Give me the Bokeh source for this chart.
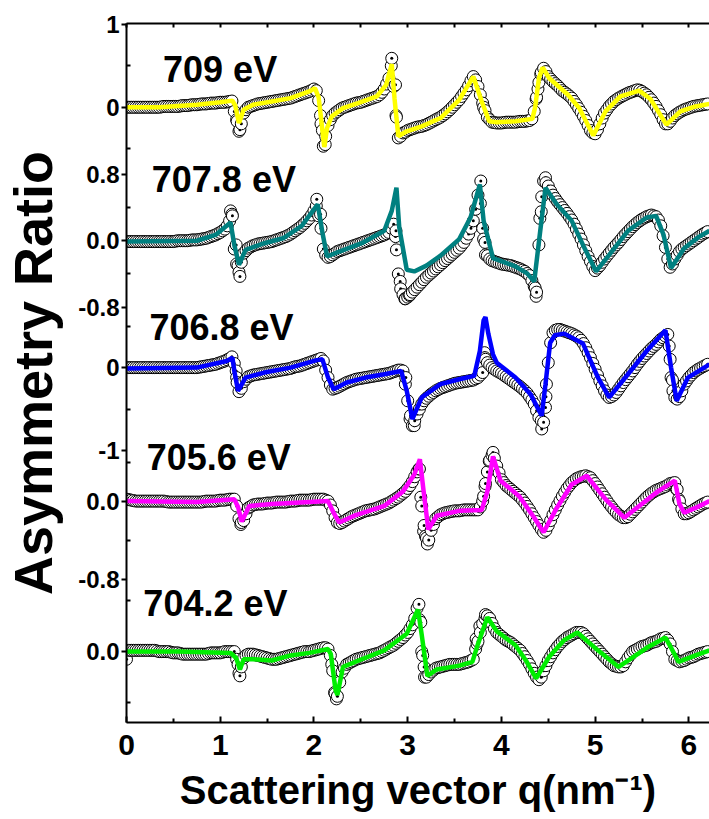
from bokeh.plotting import figure
from bokeh.models import Range1d, LinearAxis, FixedTicker, Label
from bokeh.embed import file_html
from bokeh.resources import INLINE
import numpy as np

# q sampling of the measured points (nm^-1): main grid and in-between grid
q_data = [0.00, 0.05, 0.10, 0.15, 0.20, 0.25, 0.30, 0.35, 0.40, 0.45,
          0.50, 0.55, 0.60, 0.65, 0.70, 0.75, 0.80, 0.85, 0.90, 0.95,
          1.00, 1.05, 1.10, 1.15, 1.20, 1.25, 1.30, 1.35, 1.40, 1.45,
          1.50, 1.55, 1.60, 1.65, 1.70, 1.75, 1.80, 1.85, 1.90, 1.95,
          2.00, 2.05, 2.10, 2.15, 2.20, 2.25, 2.30, 2.35, 2.40, 2.45,
          2.50, 2.55, 2.60, 2.65, 2.70, 2.75, 2.80, 2.85, 2.90, 2.95,
          3.00, 3.05, 3.10, 3.15, 3.20, 3.25, 3.30, 3.35, 3.40, 3.45,
          3.50, 3.55, 3.60, 3.65, 3.70, 3.75, 3.80, 3.85, 3.90, 3.95,
          4.00, 4.05, 4.10, 4.15, 4.20, 4.25, 4.30, 4.35, 4.40, 4.45,
          4.50, 4.55, 4.60, 4.65, 4.70, 4.75, 4.80, 4.85, 4.90, 4.95,
          5.00, 5.05, 5.10, 5.15, 5.20, 5.25, 5.30, 5.35, 5.40, 5.45,
          5.50, 5.55, 5.60, 5.65, 5.70, 5.75, 5.80, 5.85, 5.90, 5.95,
          6.00, 6.05, 6.10, 6.15, 6.20]
q_mid = [0.025, 0.075, 0.125, 0.175, 0.225, 0.275, 0.325, 0.375, 0.425, 0.475,
         0.525, 0.575, 0.625, 0.675, 0.725, 0.775, 0.825, 0.875, 0.925, 0.975,
         1.025, 1.075, 1.125, 1.175, 1.225, 1.275, 1.325, 1.375, 1.425, 1.475,
         1.525, 1.575, 1.625, 1.675, 1.725, 1.775, 1.825, 1.875, 1.925, 1.975,
         2.025, 2.075, 2.125, 2.175, 2.225, 2.275, 2.325, 2.375, 2.425, 2.475,
         2.525, 2.575, 2.625, 2.675, 2.725, 2.775, 2.825, 2.875, 2.925, 2.975,
         3.025, 3.075, 3.125, 3.175, 3.225, 3.275, 3.325, 3.375, 3.425, 3.475,
         3.525, 3.575, 3.625, 3.675, 3.725, 3.775, 3.825, 3.875, 3.925, 3.975,
         4.025, 4.075, 4.125, 4.175, 4.225, 4.275, 4.325, 4.375, 4.425, 4.475,
         4.525, 4.575, 4.625, 4.675, 4.725, 4.775, 4.825, 4.875, 4.925, 4.975,
         5.025, 5.075, 5.125, 5.175, 5.225, 5.275, 5.325, 5.375, 5.425, 5.475,
         5.525, 5.575, 5.625, 5.675, 5.725, 5.775, 5.825, 5.875, 5.925, 5.975,
         6.025, 6.075, 6.125, 6.175]

# ---- 709 eV ----
e709_data = [0.00, 0.00, 0.00, 0.00, 0.00, 0.00, 0.00, 0.00, 0.01, 0.01,
             0.01, 0.01, 0.02, 0.02, 0.03, 0.03, 0.04, 0.04, 0.05, 0.05,
             0.06, 0.06, 0.07, -0.05, -0.29, -0.07, 0.00, 0.02, 0.04, 0.05,
             0.06, 0.07, 0.08, 0.09, 0.10, 0.11, 0.13, 0.15, 0.17, 0.19,
             0.22, 0.08, -0.47, -0.22, -0.10, -0.05, -0.01, 0.01, 0.03, 0.05,
             0.06, 0.08, 0.10, 0.12, 0.15, 0.22, 0.35, 0.25, -0.37, -0.31,
             -0.28, -0.26, -0.24, -0.23, -0.21, -0.18, -0.15, -0.12, -0.08, -0.03,
             0.03, 0.09, 0.17, 0.26, 0.37, 0.25, 0.05, -0.12, -0.18, -0.19,
             -0.19, -0.18, -0.18, -0.18, -0.17, -0.17, -0.16, -0.05, 0.30, 0.47,
             0.37, 0.31, 0.26, 0.20, 0.16, 0.11, 0.03, -0.06, -0.16, -0.28,
             -0.32, -0.20, -0.07, 0.01, 0.07, 0.11, 0.14, 0.17, 0.19, 0.21,
             0.19, 0.15, 0.09, 0.01, -0.09, -0.20, -0.17, -0.10, -0.06, -0.03,
             -0.01, 0.01, 0.02, 0.03, 0.04]
e709_mid = [0.00, 0.00, 0.00, 0.00, 0.00, 0.00, 0.00, 0.005, 0.01, 0.01,
            0.01, 0.015, 0.02, 0.025, 0.03, 0.035, 0.04, 0.045, 0.05, 0.055,
            0.06, 0.065, 0.075, -0.15, -0.20, -0.03, 0.01, 0.03, 0.045, 0.055,
            0.065, 0.075, 0.085, 0.095, 0.105, 0.12, 0.14, 0.16, 0.18, 0.205,
            0.20, -0.20, -0.35, -0.15, -0.07, -0.03, 0.00, 0.02, 0.04, 0.055,
            0.07, 0.09, 0.11, 0.13, 0.18, 0.28, 0.50, -0.10, -0.35, -0.30,
            -0.27, -0.25, -0.235, -0.22, -0.195, -0.165, -0.135, -0.10, -0.055, 0.00,
            0.06, 0.13, 0.21, 0.32, 0.33, 0.15, -0.04, -0.15, -0.185, -0.19,
            -0.185, -0.18, -0.18, -0.175, -0.17, -0.165, -0.14, 0.12, 0.42, 0.43,
            0.34, 0.285, 0.23, 0.18, 0.135, 0.07, -0.015, -0.11, -0.22, -0.31,
            -0.27, -0.13, -0.03, 0.04, 0.09, 0.125, 0.155, 0.18, 0.20, 0.205,
            0.17, 0.12, 0.05, -0.04, -0.15, -0.20, -0.13, -0.08, -0.045, -0.02,
            0.00, 0.015, 0.025, 0.035]
e709_q_extra = [1.18, 1.21, 2.07, 2.09, 2.12, 2.83, 2.87, 2.88, 3.81, 4.37, 4.39, 4.42]
e709_v_extra = [-0.17, -0.27, -0.10, -0.28, -0.45, 0.59, 0.27, -0.12, 0.00, 0.10, 0.22, 0.40]
e709_fit_q = [0.0, 0.35, 0.75, 1.0, 1.13, 1.16, 1.20, 1.25, 1.35, 1.55,
              1.75, 1.95, 2.01, 2.05, 2.11, 2.14, 2.19, 2.31, 2.47, 2.67,
              2.77, 2.83, 2.86, 2.90, 2.99, 3.15, 3.35, 3.55, 3.70, 3.79,
              3.87, 3.95, 4.15, 4.33, 4.36, 4.40, 4.44, 4.51, 4.71, 4.83,
              4.98, 5.11, 5.27, 5.47, 5.59, 5.76, 5.91, 6.07, 6.22]
e709_fit_v = [0.0, 0.0, 0.03, 0.06, 0.08, 0.02, -0.19, -0.03, 0.03, 0.07,
              0.11, 0.19, 0.23, 0.12, -0.48, -0.25, -0.11, -0.01, 0.05, 0.13,
              0.27, 0.52, 0.10, -0.35, -0.29, -0.23, -0.13, 0.09, 0.37, 0.07,
              -0.17, -0.18, -0.17, -0.14, 0.0, 0.35, 0.48, 0.35, 0.15, -0.01,
              -0.34, -0.05, 0.13, 0.20, 0.10, -0.21, -0.05, 0.01, 0.04]

# ---- 707.8 eV ----
e7078_data = [-0.01, -0.01, -0.01, -0.01, -0.01, -0.01, -0.01, -0.01, -0.01, -0.01,
              -0.01, 0.00, 0.00, 0.00, 0.01, 0.01, 0.02, 0.03, 0.05, 0.07,
              0.10, 0.14, 0.24, -0.10, -0.38, -0.15, -0.09, -0.06, -0.04, -0.03,
              -0.02, -0.01, 0.01, 0.03, 0.05, 0.08, 0.12, 0.16, 0.21, 0.27,
              0.36, 0.30, -0.10, -0.20, -0.17, -0.13, -0.11, -0.09, -0.07, -0.05,
              -0.03, -0.01, 0.01, 0.03, 0.05, 0.07, 0.10, 0.20, -0.40, -0.65,
              -0.68, -0.62, -0.56, -0.50, -0.44, -0.39, -0.34, -0.29, -0.24, -0.19,
              -0.14, -0.09, -0.02, 0.08, 0.24, 0.55, 0.15, -0.18, -0.24, -0.26,
              -0.28, -0.29, -0.30, -0.32, -0.34, -0.37, -0.42, -0.55, -0.05, 0.72,
              0.66, 0.55, 0.47, 0.40, 0.33, 0.25, 0.14, 0.02, -0.12, -0.25,
              -0.36, -0.30, -0.22, -0.15, -0.08, -0.02, 0.05, 0.11, 0.17, 0.22,
              0.26, 0.29, 0.31, 0.29, 0.18, -0.08, -0.32, -0.22, -0.13, -0.08,
              -0.04, 0.00, 0.04, 0.08, 0.11]
e7078_mid = [-0.01, -0.01, -0.01, -0.01, -0.01, -0.01, -0.01, -0.01, -0.01, -0.01,
             -0.005, 0.00, 0.00, 0.005, 0.01, 0.015, 0.025, 0.04, 0.06, 0.085,
             0.12, 0.18, 0.32, -0.28, -0.26, -0.12, -0.075, -0.05, -0.035, -0.025,
             -0.015, 0.00, 0.02, 0.04, 0.065, 0.10, 0.14, 0.185, 0.24, 0.31,
             0.42, 0.15, -0.17, -0.19, -0.15, -0.12, -0.10, -0.08, -0.06, -0.04,
             -0.02, 0.00, 0.02, 0.04, 0.06, 0.085, 0.15, 0.12, -0.58, -0.70,
             -0.65, -0.59, -0.53, -0.47, -0.415, -0.365, -0.315, -0.265, -0.215, -0.165,
             -0.115, -0.055, 0.03, 0.15, 0.38, 0.45, -0.02, -0.22, -0.25, -0.27,
             -0.285, -0.295, -0.31, -0.33, -0.355, -0.395, -0.48, -0.62, 0.35, 0.70,
             0.60, 0.51, 0.435, 0.365, 0.29, 0.20, 0.08, -0.05, -0.19, -0.31,
             -0.33, -0.26, -0.185, -0.115, -0.05, 0.015, 0.08, 0.14, 0.195, 0.24,
             0.275, 0.30, 0.30, 0.25, 0.06, -0.22, -0.28, -0.175, -0.10, -0.06,
             -0.02, 0.02, 0.06, 0.095]
e7078_q_extra = [1.11, 1.13, 1.17, 1.19, 1.21, 2.03, 2.07, 2.87, 2.88, 2.92,
                 2.97, 3.02, 3.78, 3.81, 3.83, 4.36, 4.37, 4.41, 4.43, 4.47]
e7078_v_extra = [0.36, 0.30, -0.05, -0.30, -0.43, 0.50, 0.32, 0.05, -0.11, -0.49,
                 -0.70, -0.66, 0.72, 0.02, -0.17, -0.57, -0.67, 0.27, 0.53, 0.76]
e7078_fit_q = [0.0, 0.75, 0.95, 1.11, 1.15, 1.20, 1.27, 1.47, 1.67, 1.87,
               2.04, 2.09, 2.14, 2.27, 2.51, 2.75, 2.83, 2.88, 2.91, 2.99,
               3.07, 3.20, 3.35, 3.55, 3.67, 3.77, 3.81, 3.91, 4.15, 4.27,
               4.35, 4.41, 4.47, 4.59, 4.75, 4.87, 5.01, 5.15, 5.35, 5.55,
               5.65, 5.73, 5.81, 5.95, 6.11, 6.22]
e7078_fit_v = [-0.01, 0.0, 0.07, 0.22, -0.05, -0.29, -0.11, -0.03, 0.03, 0.18,
               0.44, 0.10, -0.19, -0.13, -0.03, 0.12, 0.36, 0.64, 0.16, -0.35,
               -0.37, -0.30, -0.18, 0.02, 0.28, 0.68, 0.24, -0.21, -0.31, -0.39,
               -0.49, 0.08, 0.64, 0.44, 0.24, -0.05, -0.37, -0.17, 0.12, 0.28,
               0.30, 0.07, -0.33, -0.09, 0.05, 0.12]

# ---- 706.8 eV ----
e7068_data = [0.00, 0.00, 0.00, 0.00, 0.00, 0.00, 0.00, 0.00, 0.00, 0.00,
              0.00, 0.00, 0.00, 0.00, 0.00, 0.00, 0.01, 0.02, 0.03, 0.04,
              0.06, 0.08, 0.11, 0.05, -0.29, -0.17, -0.11, -0.09, -0.08, -0.07,
              -0.06, -0.05, -0.04, -0.03, -0.02, -0.01, 0.01, 0.02, 0.04, 0.06,
              0.08, 0.10, 0.08, -0.12, -0.26, -0.24, -0.21, -0.18, -0.16, -0.14,
              -0.13, -0.12, -0.11, -0.10, -0.09, -0.08, -0.07, -0.05, -0.03, -0.04,
              -0.40, -0.70, -0.56, -0.44, -0.37, -0.32, -0.28, -0.25, -0.23, -0.21,
              -0.19, -0.18, -0.17, -0.16, -0.15, -0.12, -0.06, 0.06, 0.00, -0.04,
              -0.07, -0.11, -0.15, -0.19, -0.23, -0.28, -0.35, -0.44, -0.60, -0.66,
              0.06, 0.42, 0.46, 0.45, 0.43, 0.41, 0.38, 0.33, 0.24, 0.12,
              -0.02, -0.16, -0.28, -0.36, -0.33, -0.26, -0.18, -0.11, -0.04, 0.04,
              0.11, 0.17, 0.23, 0.28, 0.34, 0.38, 0.10, -0.36, -0.35, -0.20,
              -0.12, -0.06, -0.02, 0.01, 0.04]
e7068_mid = [0.00, 0.00, 0.00, 0.00, 0.00, 0.00, 0.00, 0.00, 0.00, 0.00,
             0.00, 0.00, 0.00, 0.00, 0.00, 0.005, 0.015, 0.025, 0.035, 0.05,
             0.07, 0.095, 0.13, -0.12, -0.25, -0.14, -0.10, -0.085, -0.075, -0.065,
             -0.055, -0.045, -0.035, -0.025, -0.015, 0.00, 0.015, 0.03, 0.05, 0.07,
             0.09, 0.11, -0.03, -0.21, -0.25, -0.225, -0.195, -0.17, -0.15, -0.135,
             -0.125, -0.115, -0.105, -0.095, -0.085, -0.075, -0.06, -0.04, -0.03, -0.20,
             -0.62, -0.64, -0.50, -0.40, -0.345, -0.30, -0.265, -0.24, -0.22, -0.20,
             -0.185, -0.175, -0.165, -0.155, -0.135, -0.09, 0.12, 0.03, -0.02, -0.055,
             -0.09, -0.13, -0.17, -0.21, -0.255, -0.31, -0.39, -0.52, -0.64, -0.35,
             0.30, 0.45, 0.46, 0.44, 0.42, 0.395, 0.36, 0.29, 0.18, 0.05,
             -0.09, -0.22, -0.33, -0.35, -0.30, -0.22, -0.145, -0.075, 0.00, 0.075,
             0.14, 0.20, 0.255, 0.31, 0.36, 0.40, -0.15, -0.38, -0.28, -0.16,
             -0.09, -0.04, -0.005, 0.025]
e7068_q_extra = [1.17, 1.18, 2.98, 3.03, 3.07, 3.82, 3.83, 4.43, 4.47, 4.48, 5.79, 5.81, 5.83]
e7068_v_extra = [-0.04, -0.18, -0.12, -0.58, -0.70, 0.18, 0.10, -0.74, -0.48, -0.20, 0.26, -0.12, -0.28]
e7068_fit_q = [0.0, 0.75, 1.07, 1.13, 1.15, 1.19, 1.27, 1.47, 1.75, 2.03,
               2.09, 2.15, 2.21, 2.35, 2.55, 2.75, 2.93, 2.99, 3.05, 3.15,
               3.35, 3.55, 3.71, 3.77, 3.81, 3.83, 3.86, 3.91, 3.95, 4.15,
               4.31, 4.43, 4.47, 4.52, 4.57, 4.67, 4.87, 5.03, 5.15, 5.35,
               5.55, 5.75, 5.81, 5.87, 5.99, 6.22]
e7068_fit_v = [-0.01, 0.0, 0.08, 0.12, -0.04, -0.28, -0.12, -0.06, 0.0, 0.09,
               0.10, -0.12, -0.26, -0.18, -0.12, -0.08, -0.04, -0.28, -0.62, -0.36,
               -0.20, -0.14, -0.10, 0.20, 0.57, 0.61, 0.41, 0.16, 0.06, -0.12,
               -0.32, -0.58, -0.20, 0.30, 0.39, 0.41, 0.29, -0.12, -0.36, -0.08,
               0.20, 0.45, 0.0, -0.40, -0.12, 0.04]

# ---- 705.6 eV ----
e7056_data = [0.02, 0.01, 0.00, 0.00, 0.00, 0.00, 0.00, 0.00, 0.00, -0.01,
              -0.01, -0.01, -0.01, -0.01, -0.01, -0.01, -0.01, 0.00, 0.00, 0.00,
              0.01, 0.01, 0.02, 0.02, -0.18, -0.20, -0.07, -0.04, -0.03, -0.03,
              -0.02, -0.02, -0.01, -0.01, -0.01, 0.00, 0.00, 0.01, 0.01, 0.01,
              0.02, 0.02, 0.02, 0.00, -0.10, -0.22, -0.22, -0.19, -0.16, -0.14,
              -0.12, -0.10, -0.09, -0.08, -0.06, -0.04, -0.02, 0.01, 0.04, 0.08,
              0.13, 0.20, 0.30, -0.05, -0.38, -0.30, -0.18, -0.14, -0.12, -0.11,
              -0.10, -0.10, -0.09, -0.09, -0.09, -0.09, 0.00, 0.30, 0.47, 0.36,
              0.22, 0.16, 0.12, 0.08, 0.04, -0.02, -0.09, -0.17, -0.25, -0.32,
              -0.25, -0.14, -0.04, 0.05, 0.13, 0.19, 0.23, 0.25, 0.26, 0.24,
              0.18, 0.11, 0.04, -0.03, -0.09, -0.14, -0.17, -0.16, -0.11, -0.06,
              -0.01, 0.04, 0.08, 0.11, 0.13, 0.15, 0.18, 0.19, 0.00, -0.13,
              -0.12, -0.09, -0.06, -0.03, -0.01]
e7056_mid = [0.015, 0.005, 0.00, 0.00, 0.00, 0.00, 0.00, 0.00, -0.005, -0.01,
             -0.01, -0.01, -0.01, -0.01, -0.01, -0.01, -0.005, 0.00, 0.00, 0.005,
             0.01, 0.015, 0.02, -0.05, -0.22, -0.13, -0.055, -0.035, -0.03, -0.025,
             -0.02, -0.015, -0.01, -0.01, -0.005, 0.00, 0.005, 0.01, 0.01, 0.015,
             0.02, 0.02, 0.01, -0.04, -0.17, -0.23, -0.205, -0.175, -0.15, -0.13,
             -0.11, -0.095, -0.085, -0.07, -0.05, -0.03, -0.005, 0.025, 0.06, 0.10,
             0.16, 0.25, 0.33, -0.25, -0.40, -0.24, -0.16, -0.13, -0.115, -0.105,
             -0.10, -0.095, -0.09, -0.09, -0.09, -0.06, 0.15, 0.42, 0.44, 0.29,
             0.19, 0.14, 0.10, 0.06, 0.01, -0.055, -0.13, -0.21, -0.29, -0.30,
             -0.20, -0.09, 0.005, 0.09, 0.16, 0.21, 0.24, 0.255, 0.25, 0.21,
             0.145, 0.075, 0.005, -0.06, -0.115, -0.155, -0.17, -0.135, -0.085, -0.035,
             0.015, 0.06, 0.095, 0.12, 0.14, 0.165, 0.185, 0.12, -0.08, -0.13,
             -0.105, -0.075, -0.045, -0.02]
e7056_q_extra = [1.22, 3.12, 3.14, 3.17, 3.19, 3.21, 3.81, 3.83, 3.87, 3.91, 5.87, 5.89]
e7056_v_extra = [-0.24, 0.33, 0.04, -0.31, -0.36, -0.44, 0.05, 0.18, 0.41, 0.50, 0.12, 0.02]
e7056_fit_q = [0.0, 0.75, 1.15, 1.19, 1.23, 1.31, 1.55, 1.95, 2.15, 2.21,
               2.27, 2.43, 2.75, 2.95, 3.07, 3.13, 3.17, 3.22, 3.31, 3.55,
               3.79, 3.85, 3.91, 3.99, 4.19, 4.35, 4.45, 4.59, 4.75, 4.91,
               5.11, 5.31, 5.47, 5.67, 5.85, 5.90, 5.95, 6.07, 6.22]
e7056_fit_v = [0.0, -0.01, 0.02, -0.06, -0.21, -0.05, -0.03, -0.01, 0.0, -0.12,
               -0.22, -0.15, -0.05, 0.10, 0.27, 0.43, 0.10, -0.29, -0.15, -0.10,
               -0.09, 0.10, 0.46, 0.21, 0.05, -0.17, -0.32, -0.07, 0.17, 0.26,
               0.02, -0.17, -0.05, 0.10, 0.21, -0.03, -0.12, -0.07, 0.0]

# ---- 704.2 eV ----
e7042_data = [-0.06, 0.01, 0.01, 0.01, 0.01, 0.01, 0.01, 0.00, 0.00, 0.00,
              -0.01, -0.01, -0.02, -0.02, -0.02, -0.02, -0.02, -0.02, -0.01, -0.01,
              -0.01, 0.00, 0.00, 0.00, -0.17, -0.05, -0.02, -0.02, -0.03, -0.04,
              -0.05, -0.06, -0.06, -0.05, -0.04, -0.03, -0.02, -0.01, 0.00, 0.00,
              0.01, 0.02, 0.03, 0.02, -0.15, -0.35, -0.16, -0.10, -0.08, -0.06,
              -0.05, -0.04, -0.03, -0.02, -0.01, 0.01, 0.03, 0.05, 0.08, 0.11,
              0.15, 0.21, 0.34, 0.00, -0.20, -0.16, -0.13, -0.12, -0.11, -0.10,
              -0.10, -0.10, -0.09, -0.08, -0.06, 0.08, 0.22, 0.28, 0.22, 0.15,
              0.12, 0.09, 0.07, 0.04, 0.01, -0.04, -0.10, -0.17, -0.22, -0.15,
              -0.07, -0.01, 0.04, 0.08, 0.11, 0.13, 0.15, 0.15, 0.12, 0.08,
              0.04, 0.00, -0.04, -0.08, -0.11, -0.12, -0.11, -0.05, 0.00, 0.02,
              0.04, 0.05, 0.07, 0.08, 0.10, 0.11, 0.06, -0.06, -0.08, -0.07,
              -0.05, -0.04, -0.02, -0.01, 0.00]
e7042_mid = [0.01, 0.01, 0.01, 0.01, 0.01, 0.01, 0.005, 0.00, 0.00, -0.005,
             -0.01, -0.015, -0.02, -0.02, -0.02, -0.02, -0.02, -0.015, -0.01, -0.01,
             -0.005, 0.00, 0.00, -0.06, -0.12, -0.03, -0.02, -0.025, -0.035, -0.045,
             -0.055, -0.06, -0.055, -0.045, -0.035, -0.025, -0.015, -0.005, 0.00, 0.005,
             0.015, 0.025, 0.03, -0.03, -0.33, -0.24, -0.13, -0.09, -0.07, -0.055,
             -0.045, -0.035, -0.025, -0.015, 0.00, 0.02, 0.04, 0.065, 0.095, 0.13,
             0.18, 0.26, 0.25, -0.12, -0.18, -0.145, -0.125, -0.115, -0.105, -0.10,
             -0.10, -0.095, -0.085, -0.07, 0.02, 0.15, 0.26, 0.26, 0.18, 0.135,
             0.105, 0.08, 0.055, 0.025, -0.015, -0.07, -0.135, -0.20, -0.20, -0.11,
             -0.04, 0.015, 0.06, 0.095, 0.12, 0.14, 0.15, 0.14, 0.10, 0.06,
             0.02, -0.02, -0.06, -0.095, -0.115, -0.12, -0.08, -0.025, 0.01, 0.03,
             0.045, 0.06, 0.075, 0.09, 0.105, 0.09, 0.00, -0.07, -0.075, -0.06,
             -0.045, -0.03, -0.015, -0.005]
e7042_q_extra = [1.19, 1.21, 2.19, 2.22, 2.24, 3.12, 3.14, 3.16, 3.18, 3.73, 3.74, 3.77, 3.83]
e7042_v_extra = [-0.10, -0.19, -0.10, -0.32, -0.37, 0.37, 0.23, -0.03, -0.20, 0.10, 0.06, 0.20, 0.29]
e7042_fit_q = [0.0, 0.55, 1.11, 1.17, 1.21, 1.25, 1.35, 1.55, 1.75, 1.95,
               2.15, 2.18, 2.23, 2.25, 2.31, 2.51, 2.75, 2.99, 3.11, 3.15,
               3.21, 3.31, 3.55, 3.69, 3.75, 3.85, 3.95, 4.15, 4.27, 4.37,
               4.51, 4.67, 4.81, 5.03, 5.25, 5.35, 5.55, 5.75, 5.81, 5.89,
               6.07, 6.22]
e7042_fit_v = [0.0, 0.0, -0.01, -0.05, -0.14, -0.06, -0.06, -0.07, -0.03, -0.01,
               0.02, -0.02, -0.30, -0.34, -0.12, -0.06, 0.01, 0.14, 0.33, 0.13,
               -0.19, -0.14, -0.11, -0.08, 0.06, 0.27, 0.16, 0.05, -0.08, -0.21,
               -0.04, 0.09, 0.15, 0.01, -0.12, -0.07, 0.03, 0.11, 0.03, -0.08,
               -0.03, 0.01]

labels = ["709 eV", "707.8 eV", "706.8 eV", "705.6 eV", "704.2 eV"]
colors = ["#FFFF00", "#008080", "#0000FF", "#FF00FF", "#00EE00"]

# y-axis tick values of each panel (labelled ones and unlabelled minor ones)
tick_major = [[(1, "1"), (0, "0")],
              [(0.8, "0.8"), (0, "0.0"), (-0.8, "-0.8")],
              [(0, "0"), (-1, "-1")],
              [(0, "0.0"), (-0.8, "-0.8")],
              [(0, "0.0")]]
tick_minor = [[0.5, -0.5], [0.4, -0.4], [0.5, -0.5], [0.4, -0.4], [0.4, -0.4]]

# stacking layout (display units): baseline, vertical scale, label offsets
bases = [7.42, 5.81, 4.28, 2.67, 0.855]
scales = [1.0, 1.0, 1.0, 1.175, 1.54]
label_dy = [0.452, 0.735, 0.488, 0.524, 0.584]
label_x = [0.39, 0.27, 0.245, 0.215, 0.18]

panels = [
    (e709_data, e709_mid, e709_q_extra, e709_v_extra, e709_fit_q, e709_fit_v),
    (e7078_data, e7078_mid, e7078_q_extra, e7078_v_extra, e7078_fit_q, e7078_fit_v),
    (e7068_data, e7068_mid, e7068_q_extra, e7068_v_extra, e7068_fit_q, e7068_fit_v),
    (e7056_data, e7056_mid, e7056_q_extra, e7056_v_extra, e7056_fit_q, e7056_fit_v),
    (e7042_data, e7042_mid, e7042_q_extra, e7042_v_extra, e7042_fit_q, e7042_fit_v),
]

FONT = "Liberation Sans"

p = figure(width=709, height=819, x_range=Range1d(0, 6.22), y_range=Range1d(0, 8.43),
           output_backend="svg", toolbar_location=None,
           min_border_left=125, min_border_right=0, min_border_top=23, min_border_bottom=97)
p.xgrid.visible = False
p.ygrid.visible = False
p.outline_line_color = None
p.background_fill_color = "white"
p.border_fill_color = "white"

major_pos, overrides, minor_pos = [], {}, []
for i in range(5):
    data, mid, qx, vx, fq, fv = panels[i]
    b, s = bases[i], scales[i]
    pts = sorted(zip(list(q_data) + list(q_mid) + list(qx),
                     list(data) + list(mid) + list(vx)))
    q_all = [a for a, _ in pts]
    y_all = b + s * np.array([c for _, c in pts])
    p.scatter(q_all, y_all, marker="circle_dot", size=12, fill_color="white",
              line_color="black", line_width=1)
    p.line(fq, b + s * np.array(fv), line_color=colors[i], line_width=4.5)
    p.add_layout(Label(x=label_x[i], y=b + label_dy[i], text=labels[i],
                       text_font=FONT, text_font_style="bold", text_font_size="36px",
                       text_color="black", text_baseline="middle"))
    for v, t in tick_major[i]:
        pos = round(b + s * v, 4)
        major_pos.append(pos)
        overrides[pos] = t
    for v in tick_minor[i]:
        minor_pos.append(round(b + s * v, 4))

ya = p.yaxis[0]
ya.ticker = FixedTicker(ticks=major_pos, minor_ticks=minor_pos)
ya.major_label_overrides = overrides
ya.axis_label = "Asymmetry Ratio"
ya.axis_label_text_font = FONT
ya.axis_label_text_font_style = "bold"
ya.axis_label_text_font_size = "54px"
ya.axis_label_text_color = "black"
ya.axis_label_standoff = 12
ya.major_label_text_font = FONT
ya.major_label_text_font_style = "bold"
ya.major_label_text_font_size = "24px"
ya.major_label_text_color = "black"
ya.major_label_standoff = 2
ya.major_tick_out = 5
ya.major_tick_in = 0
ya.minor_tick_in = 4
ya.minor_tick_out = 0
ya.axis_line_width = 2
ya.major_tick_line_width = 2
ya.minor_tick_line_width = 2

xa = p.xaxis[0]
xa.ticker = FixedTicker(ticks=[0, 1, 2, 3, 4, 5, 6], minor_ticks=[0.5, 1.5, 2.5, 3.5, 4.5, 5.5])
xa.axis_label = "Scattering vector q(nm\u207b\u00b9)"
xa.axis_label_text_font = FONT
xa.axis_label_text_font_style = "bold"
xa.axis_label_text_font_size = "40px"
xa.axis_label_text_color = "black"
xa.axis_label_standoff = 10
xa.major_label_text_font = FONT
xa.major_label_text_font_style = "bold"
xa.major_label_text_font_size = "30px"
xa.major_label_text_color = "black"
xa.major_label_standoff = 12
xa.major_tick_in = 6
xa.major_tick_out = 0
xa.minor_tick_in = 4
xa.minor_tick_out = 0
xa.axis_line_width = 2
xa.major_tick_line_width = 2
xa.minor_tick_line_width = 2

top_ticks = [0, 0.5, 1, 1.5, 2, 2.5, 3, 3.5, 4, 4.5, 5, 5.5, 6]
top = LinearAxis(ticker=FixedTicker(ticks=top_ticks),
                 major_tick_in=4, major_tick_out=0, minor_tick_in=0, minor_tick_out=0,
                 major_label_text_font_size="8px", major_label_standoff=0,
                 major_label_overrides={t: "" for t in top_ticks},
                 axis_line_width=2, major_tick_line_width=2)
p.add_layout(top, "above")

open("out.html", "w").write(file_html(p, INLINE))
